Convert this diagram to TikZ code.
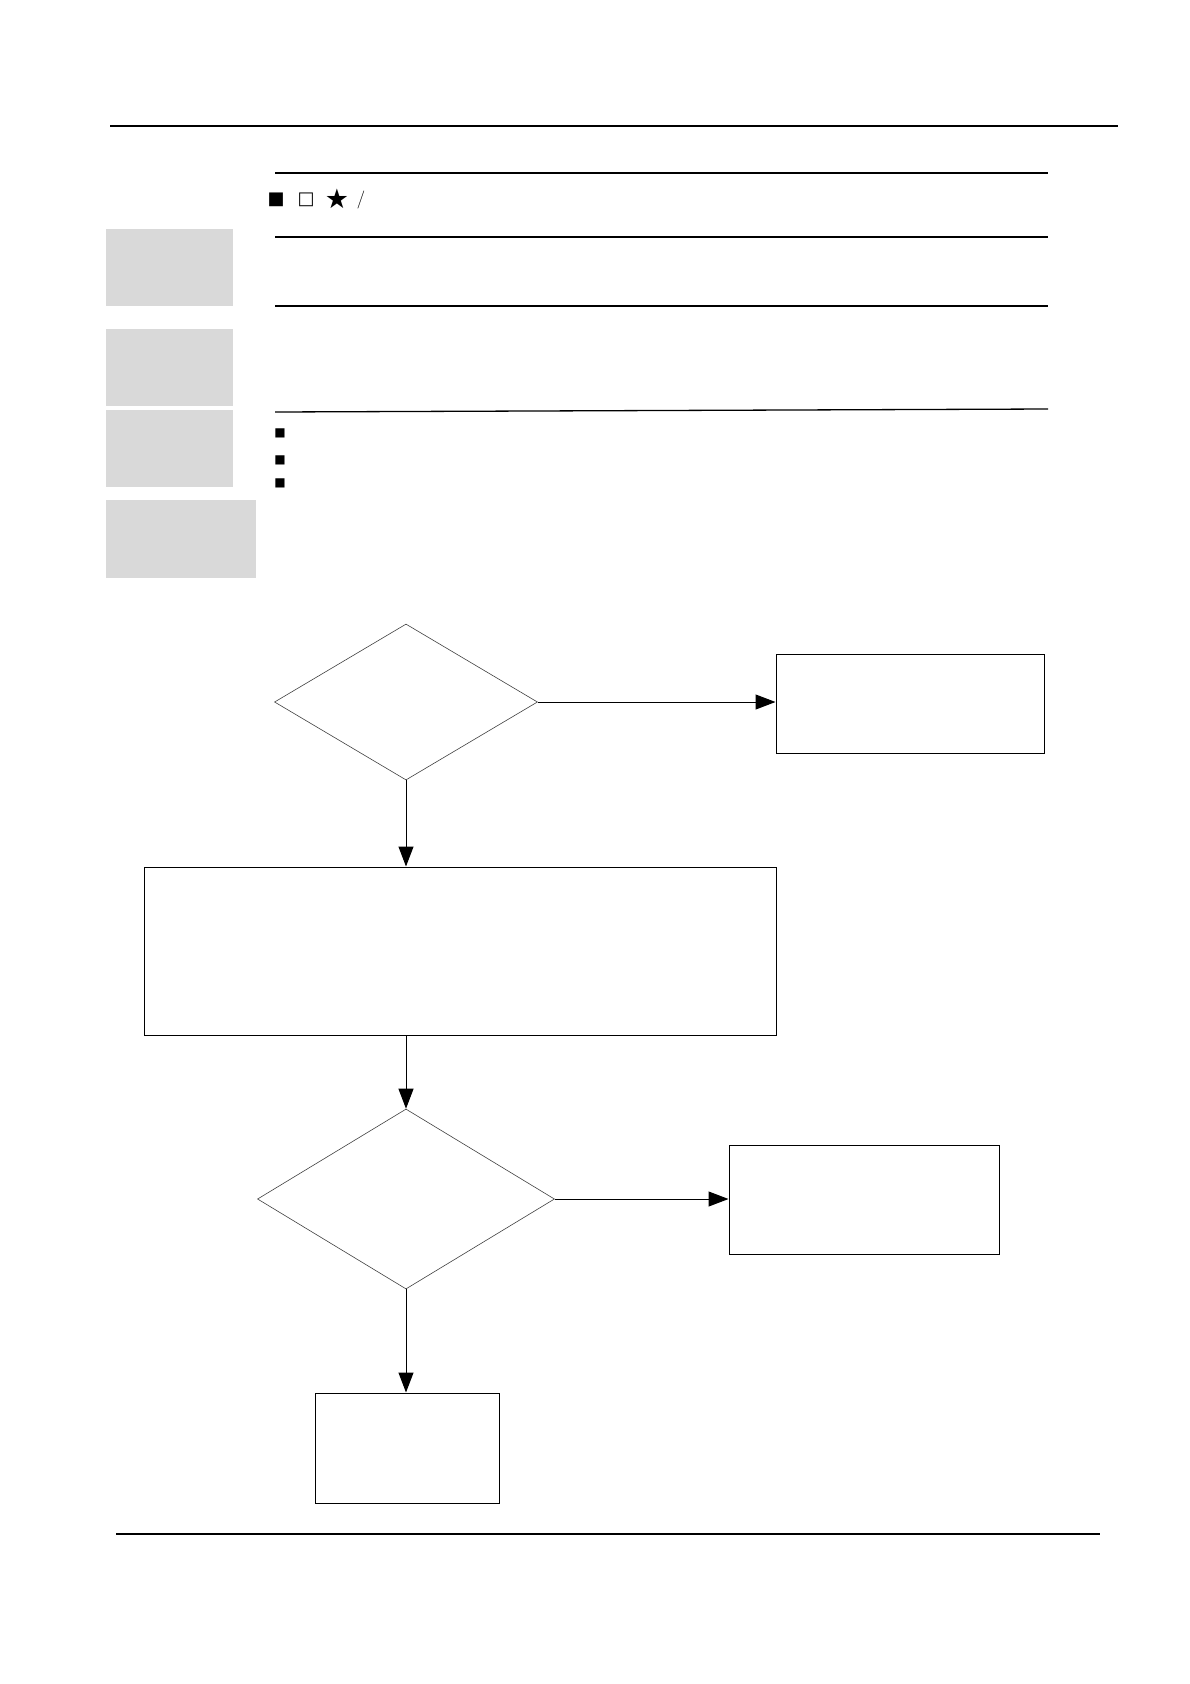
\documentclass[tikz,border=0pt]{standalone}
\usepackage{fontspec}
\newfontfamily\symfont{DejaVu Sans}
\usepackage{xcolor}
\usepackage{tikz}
\usetikzlibrary{arrows.meta,positioning,shapes.geometric}
\definecolor{panel}{RGB}{217,217,217}

\begin{document}
\begin{tikzpicture}[x=1pt, y=-1pt,
  rule/.style={line width=1.3pt},
  tab/.style={fill=panel, inner sep=0pt, anchor=north west},
  dec/.style={draw=black!75, diamond, inner sep=0pt, line width=0.6pt},
  blk/.style={draw, rectangle, inner sep=0pt, line width=1pt},
  arrow/.style={-{Triangle[length=20pt, width=15pt]}, line width=1pt},
  sym/.style={font=\symfont\fontsize{18}{18}\selectfont, inner sep=0pt},
  bul/.style={font=\symfont\fontsize{12}{12}\selectfont, inner sep=0pt}
]
\useasboundingbox (0,0) rectangle (1190,1684);

% page rules
\draw[rule] (110,126) -- (1118,126);
\draw[rule] (116,1534) -- (1100,1534);

% table rules
\draw[rule] (275,173) -- (1048,173);
\draw[rule] (275,237) -- (1048,237);
\draw[rule] (275,306) -- (1048,306);
\draw[rule] (275,412) -- (1048,409);

% legend marks
\node[sym] (s1) at (276,200) {■};
\node[sym] (s2) at (306,200) {□};
\node[sym, font=\symfont\fontsize{27}{27}\selectfont] (s3) at (337,199) {★};
\node[sym, font=\fontsize{18}{18}\selectfont] (s4) at (361,200) {/};

% grey label cells
\node[tab, minimum width=127, minimum height=77] (t1) at (106,229) {};
\node[tab, minimum width=127, minimum height=77] (t2) at (106,329) {};
\node[tab, minimum width=127, minimum height=77] (t3) at (106,410) {};
\node[tab, minimum width=150, minimum height=78] (t4) at (106,500) {};

\foreach \y [count=\i] in {433,460,483} {
  \node[bul] (b\i) at (280,\y) {■};
}

% flow
\node[dec, minimum width=263, minimum height=156] (d1) at (406,702) {};
\node[blk, minimum width=268, minimum height=99] (r1) at (910,703.5) {};
\node[blk, minimum width=632, minimum height=168] (r2) at (460,951) {};
\node[dec, minimum width=297, minimum height=180] (d2) at (406,1199) {};
\node[blk, minimum width=270, minimum height=109] (r3) at (864,1199.5) {};
\node[blk, minimum width=184, minimum height=110] (r4) at (407,1448) {};

\draw[arrow] (d1.east) -- (d1.east -| r1.west);
\draw[arrow] (d1.south) -- (d1.south |- r2.north);
\draw[arrow] (d2.north |- r2.south) -- (d2.north);
\draw[arrow] (d2.east) -- (d2.east -| r3.west);
\draw[arrow] (d2.south) -- (d2.south |- r4.north);

\end{tikzpicture}
\end{document}
